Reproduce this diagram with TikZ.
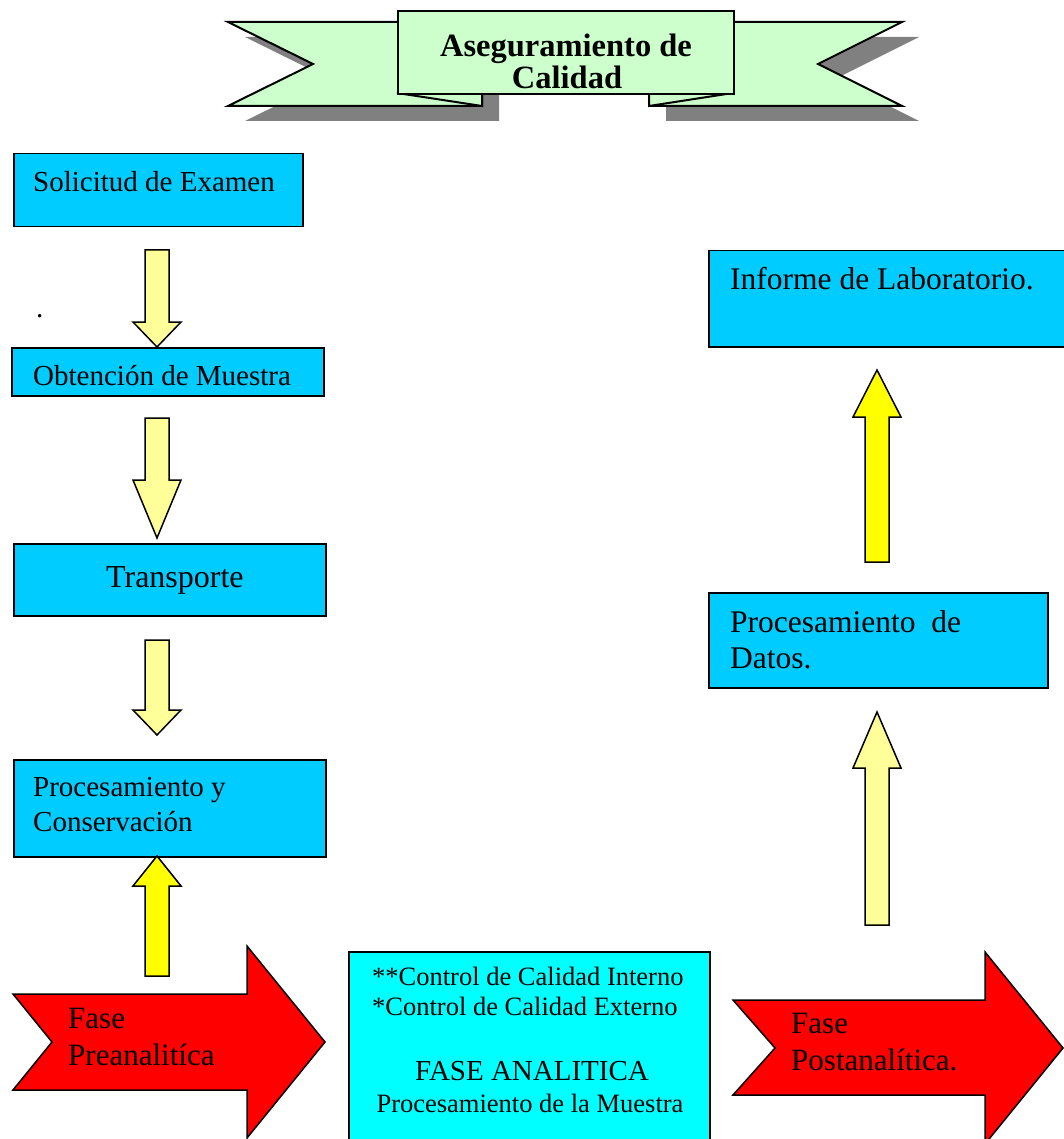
\documentclass[tikz,border=0pt]{standalone}
\usepackage{fontspec}
\setmainfont{Liberation Serif}

\definecolor{celeste}{HTML}{00CCFF}
\definecolor{cian}{HTML}{00FFFF}
\definecolor{amarillo}{HTML}{FFFF00}
\definecolor{amarilloclaro}{HTML}{FFFF99}
\definecolor{rojo}{HTML}{FF0000}
\definecolor{verdeclaro}{HTML}{CCFFCC}
\definecolor{sombra}{HTML}{808080}

\tikzset{
  caja/.style={draw, line width=1.5pt, fill=celeste, anchor=north west, inner sep=0},
  texto/.style={anchor=base west, inner sep=0, font=\fontsize{29}{35}\selectfont},
  flechaclara/.style={draw, line width=1.5pt, fill=amarilloclaro},
  flechafuerte/.style={draw, line width=1.5pt, fill=amarillo},
  fase/.style={draw, line width=1.5pt, fill=rojo},
  cinta/.style={draw, line width=2pt, fill=verdeclaro}
}

% vertical block arrow: x, tail y, head y, tip y
\newcommand{\flechav}[5][]{%
  \draw[#1] (#2-12,#3) -- (#2+12,#3) -- (#2+12,#4) -- (#2+24,#4) -- (#2,#5)
    -- (#2-24,#4) -- (#2-12,#4) -- cycle;}

\begin{document}
\begin{tikzpicture}[x=1pt, y=-1pt]
\clip (0,0) rectangle (1064,1139);

% Banner shadow
\fill[sombra, shift={(17,15)}] (228,22) -- (482,22) -- (482,106) -- (228,106) -- (313,64) -- cycle;
\fill[sombra, shift={(17,15)}] (902,22) -- (649,22) -- (649,106) -- (902,106) -- (818,64) -- cycle;

% Banner
\draw[cinta] (228,22) -- (482,22) -- (482,106) -- (228,106) -- (313,64) -- cycle;
\draw[cinta] (902,22) -- (649,22) -- (649,106) -- (902,106) -- (818,64) -- cycle;
\draw[cinta] (397,93) -- (482,106) -- (482,93) -- cycle;
\draw[cinta] (733,93) -- (649,106) -- (649,93) -- cycle;
\node[cinta, anchor=north west, minimum width=336, minimum height=83, inner sep=0] (banner) at (397,10) {};
\node[font=\fontsize{32.5}{34}\selectfont\bfseries, inner sep=0, anchor=base] (banner1) at (566,57) {Aseguramiento de};
\node[font=\fontsize{32.5}{34}\selectfont\bfseries, inner sep=0, anchor=base] (banner2) at (567,89) {Calidad};

% Preanalytic boxes
\node[caja, minimum width=289, minimum height=73] (solicitud) at (13,153) {};
\node[texto] (solicitudtxt) at (33,192) {Solicitud de Examen};
\node[texto] (punto) at (36,317) {.};
\node[caja, minimum width=312, minimum height=48] (obtencion) at (11,347) {};
\node[texto] (obtenciontxt) at (33,385) {Obtención de Muestra};
\node[caja, minimum width=312, minimum height=72] (transporte) at (13,543) {};
\node[texto, font=\fontsize{32}{38}\selectfont] (transportetxt) at (106,587) {Transporte};
\node[caja, minimum width=312, minimum height=97] (conservacion) at (13,759) {};
\node[texto] (conservacion1) at (33,796) {Procesamiento y};
\node[texto] (conservacion2) at (33,831) {Conservación};

% Postanalytic boxes
\node[caja, minimum width=362, minimum height=96] (informe) at (708,250) {};
\node[texto, font=\fontsize{31.5}{37}\selectfont] (informetxt) at (730,290) {Informe de Laboratorio.};
\node[caja, minimum width=339, minimum height=95] (datos) at (708,592) {};
\node[texto, font=\fontsize{31.5}{37}\selectfont] (datos1) at (730,632) {Procesamiento~ de};
\node[texto, font=\fontsize{31.5}{37}\selectfont] (datos2) at (730,668) {Datos.};

% Arrows between boxes
\flechav[flechaclara]{157}{250}{322}{347}
\flechav[flechaclara]{157}{418}{480}{538}
\flechav[flechaclara]{157}{640}{710}{735}
\flechav[flechafuerte]{157}{976}{886}{856}
\flechav[flechafuerte]{877}{562}{417}{370}
\flechav[flechaclara]{877}{925}{768}{712}

% Phases
\draw[fase] (13,994) -- (247,994) -- (247,946) -- (325,1042) -- (247,1138) -- (247,1090) -- (13,1090) -- (52,1042) -- cycle;
\node[texto, font=\fontsize{31}{37}\selectfont] (pre1) at (68,1028) {Fase};
\node[texto, font=\fontsize{31}{37}\selectfont] (pre2) at (68,1065) {Preanalitíca};

\node[caja, fill=cian, minimum width=361, minimum height=200] (analitica) at (348,951) {};
\node[texto, font=\fontsize{26.5}{30}\selectfont] (interno) at (372,985) {**Control de Calidad Interno};
\node[texto, font=\fontsize{26.5}{30}\selectfont] (externo) at (372,1015) {*Control de Calidad Externo};
\node[texto, anchor=base, font=\fontsize{29}{33}\selectfont] (analitica1) at (532,1080) {FASE ANALITICA};
\node[texto, anchor=base, font=\fontsize{26.5}{30}\selectfont] (analitica2) at (530,1112) {Procesamiento de la Muestra};

\draw[fase] (733,1000) -- (985,1000) -- (985,952) -- (1063,1048) -- (985,1144) -- (985,1095) -- (733,1095) -- (775,1048) -- cycle;
\node[texto, font=\fontsize{31}{37}\selectfont] (post1) at (791,1033) {Fase};
\node[texto, font=\fontsize{31}{37}\selectfont] (post2) at (791,1070) {Postanalítica.};

\end{tikzpicture}
\end{document}
